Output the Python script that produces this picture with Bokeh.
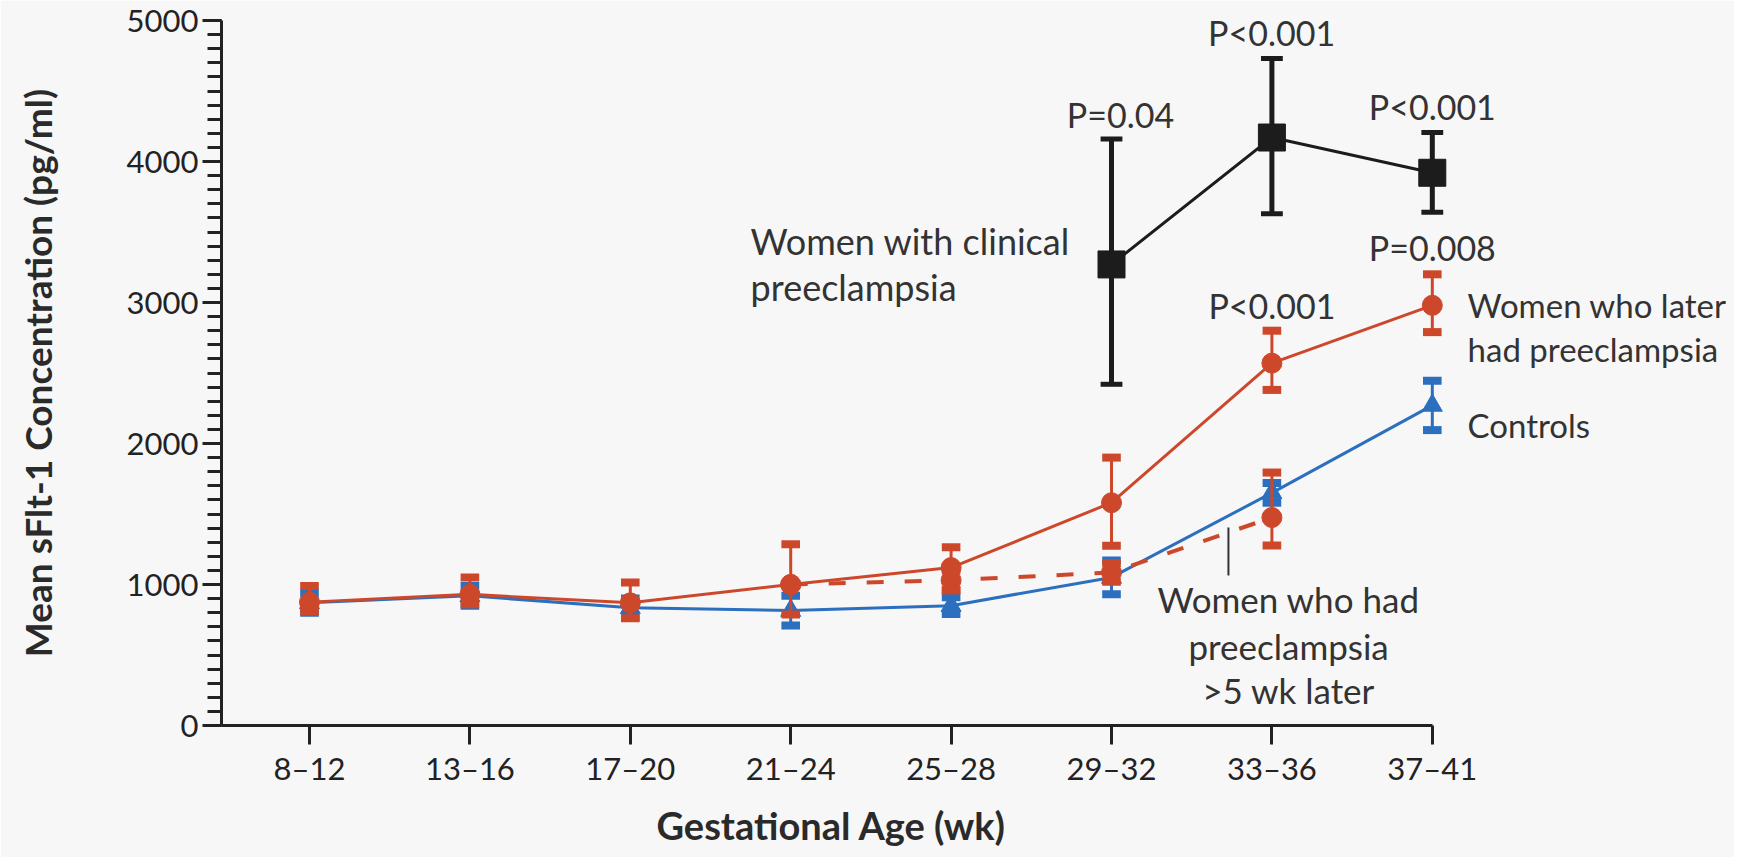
from bokeh.plotting import figure
from bokeh.models import Range1d, FixedTicker, SingleIntervalTicker, Title
from bokeh.core.properties import value
from bokeh.embed import file_html
from bokeh.resources import INLINE

# ---------------- data ----------------
categories = ["8\u201312", "13\u201316", "17\u201320", "21\u201324", "25\u201328", "29\u201332", "33\u201336", "37\u201341"]
cat_pos = list(range(len(categories)))

controls_mean = [870, 920, 835, 815, 850, 1050, 1650, 2270]
controls_lower = [800, 850, 766, 710, 790, 930, 1580, 2095]
controls_upper = [940, 990, 900, 920, 910, 1170, 1720, 2445]

later_mean = [875, 930, 870, 1000, 1120, 1580, 2570, 2980]
later_lower = [810, 860, 760, 787, 960, 1275, 2380, 2790]
later_upper = [990, 1050, 1015, 1285, 1265, 1900, 2800, 3200]

late5_pos = [3, 4, 5, 6]
late5_mean = [1000, 1030, 1085, 1475]
late5_lower = [1000, 960, 1020, 1277]
late5_upper = [1000, 1100, 1150, 1794]

clinical_pos = [5, 6, 7]
clinical_mean = [3270, 4170, 3920]
clinical_lower = [2420, 3630, 3640]
clinical_upper = [4160, 4730, 4205]

p_labels = ["P=0.04", "P<0.001", "P<0.001", "P=0.008", "P<0.001"]
p_x = [5.056, 5.998, 7.0, 7.0, 6.0]
p_y = [4333, 4915, 4390, 3390, 2979]

pointer_x = [5.729]
pointer_y0 = [1064]
pointer_y1 = [1404]

RED = "#cd482b"
BLUE = "#2b6fbe"
BLACK = "#1c1c1c"
TXT = "#333333"
BG = "#f7f7f7"
FONT = "Lato"

p = figure(frame_width=1513, frame_height=705,
           x_range=Range1d(-0.5486, 8.884), y_range=Range1d(0, 5000),
           output_backend="svg", toolbar_location=None,
           min_border_left=221, min_border_top=20, min_border_right=0, min_border_bottom=125,
           background_fill_color=BG, border_fill_color=BG)
p.outline_line_color = None
p.grid.visible = False

# axes
p.xaxis.ticker = FixedTicker(ticks=cat_pos)
p.xaxis.major_label_overrides = {i: c for i, c in zip(cat_pos, categories)}
p.xaxis.bounds = (-0.5486, 7)
p.xaxis.minor_tick_line_color = None
p.yaxis.ticker = SingleIntervalTicker(interval=1000, num_minor_ticks=10)
p.yaxis.bounds = (0, 5000)
for ax in (p.xaxis, p.yaxis):
    ax.axis_line_width = 3
    ax.axis_line_color = "#222222"
    ax.major_tick_line_width = 3
    ax.major_tick_line_color = "#222222"
    ax.major_tick_out = 19
    ax.major_tick_in = 0
    ax.major_label_text_font = FONT
    ax.major_label_text_font_size = "31px"
    ax.major_label_text_color = "#222222"
    ax.axis_label_text_font = FONT
    ax.axis_label_text_font_style = "bold"
    ax.axis_label_text_font_size = "37px"
    ax.axis_label_text_color = "#2a2a2a"
p.yaxis.minor_tick_line_width = 3
p.yaxis.minor_tick_line_color = "#222222"
p.yaxis.minor_tick_out = 14
p.yaxis.minor_tick_in = 0
p.yaxis.major_label_standoff = 4
p.xaxis.major_label_standoff = 4
p.yaxis.axis_label = "Mean sFlt-1 Concentration (pg/ml)"
p.yaxis.axis_label_standoff = 64

# x-axis title, centred under the drawn axis line
p.add_layout(Title(text="Gestational Age (wk)", align="left", offset=435, standoff=20,
                   text_font=FONT, text_font_style="bold", text_font_size="38px",
                   text_color="#2a2a2a"), "below")


def error_bars(xs, lo, hi, color, bar_w, cap_half, cap_w):
    p.segment(x0=xs, y0=lo, x1=xs, y1=hi, line_color=color, line_width=bar_w)
    p.segment(x0=[x - cap_half for x in xs], y0=hi, x1=[x + cap_half for x in xs], y1=hi,
              line_color=color, line_width=cap_w)
    p.segment(x0=[x - cap_half for x in xs], y0=lo, x1=[x + cap_half for x in xs], y1=lo,
              line_color=color, line_width=cap_w)


# clinical preeclampsia (black)
error_bars(clinical_pos, clinical_lower, clinical_upper, BLACK, 5, 0.068, 5)
p.line(clinical_pos, clinical_mean, line_color=BLACK, line_width=3)
p.scatter(clinical_pos, clinical_mean, marker="square", size=27, fill_color=BLACK, line_color=BLACK)

# controls (blue)
error_bars(cat_pos, controls_lower, controls_upper, BLUE, 3, 0.058, 8)
p.line(cat_pos, controls_mean, line_color=BLUE, line_width=3)
p.scatter(cat_pos, controls_mean, marker="triangle", size=20, fill_color=BLUE, line_color=BLUE)

# preeclampsia >5 wk later (red dashed)
error_bars(late5_pos, late5_lower, late5_upper, RED, 3, 0.058, 8)
p.line(late5_pos, late5_mean, line_color=RED, line_width=4, line_dash="17 21")
p.scatter(late5_pos, late5_mean, marker="circle", size=20, fill_color=RED, line_color=RED)

# later had preeclampsia (red solid)
error_bars(cat_pos, later_lower, later_upper, RED, 3, 0.058, 8)
p.line(cat_pos, later_mean, line_color=RED, line_width=3)
p.scatter(cat_pos, later_mean, marker="circle", size=20, fill_color=RED, line_color=RED)

# pointer
p.segment(x0=pointer_x, y0=pointer_y0, x1=pointer_x, y1=pointer_y1, line_color="#333333", line_width=2)

# P values
p.text(x=p_x, y=p_y, text=p_labels, text_font=value(FONT), text_font_size="34px",
       text_color=TXT, text_align="center", text_baseline="middle")

# series labels
p.text(x=[2.75, 2.75], y=[3433, 3113], text=["Women with clinical", "preeclampsia"],
       text_font=value(FONT), text_font_size="36px", text_color=TXT,
       text_align="left", text_baseline="middle")
p.text(x=[7.22, 7.22, 7.22], y=[2979, 2667, 2128],
       text=["Women who later", "had preeclampsia", "Controls"],
       text_font=value(FONT), text_font_size="33px", text_color=TXT,
       text_align="left", text_baseline="middle")
p.text(x=[6.104, 6.104, 6.104], y=[894, 567, 255],
       text=["Women who had", "preeclampsia", ">5 wk later"],
       text_font=value(FONT), text_font_size="35px", text_color=TXT,
       text_align="center", text_baseline="middle")

open("out.html", "w").write(file_html(p, INLINE))
